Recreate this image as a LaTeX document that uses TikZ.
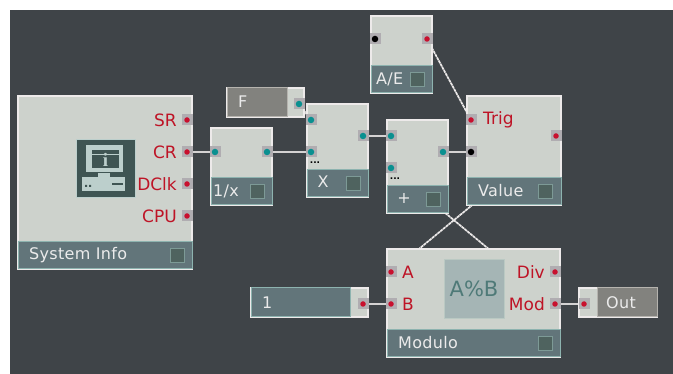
\documentclass[tikz,border=0pt]{standalone}
\usepackage{fontspec}
\setmainfont[LetterSpace=2]{DejaVu Sans}
\newfontfamily\plainfont{DejaVu Sans}
\newfontfamily\iconfont{Liberation Serif}
\definecolor{paneldark}{HTML}{3F4448}
\definecolor{bodylight}{HTML}{CDD2CC}
\definecolor{edgelight}{HTML}{EDEAEA}
\definecolor{bandteal}{HTML}{62757A}
\definecolor{edgeteal}{HTML}{8DB3AF}
\definecolor{togglefill}{HTML}{4F635F}
\definecolor{toggleedge}{HTML}{7D9A96}
\definecolor{portgrey}{HTML}{B0ADB1}
\definecolor{portred}{HTML}{C8102E}
\definecolor{portteal}{HTML}{0A9090}
\definecolor{greybox}{HTML}{82827E}
\definecolor{greyedge}{HTML}{B5B3AE}
\definecolor{labelred}{HTML}{BE1426}
\definecolor{iconink}{HTML}{3F5553}
\definecolor{iconlight}{HTML}{BCCFCC}
\definecolor{mathbox}{HTML}{A5B5B5}
\definecolor{mathink}{HTML}{4F7A78}
\pgfdeclarelayer{backdrop}
\pgfdeclarelayer{wirelayer}
\pgfsetlayers{backdrop,wirelayer,main}
\tikzset{
  modbody/.style={draw=edgelight,fill=bodylight,line width=1.4pt,inner sep=0pt,outer sep=0pt},
  modband/.style={draw=edgeteal,fill=bandteal,line width=1pt,inner sep=0pt,outer sep=0pt},
  togglebox/.style={draw=toggleedge,fill=togglefill,line width=1.4pt,inner sep=0pt,minimum size=14pt},
  greyvalue/.style={draw=greyedge,fill=greybox,line width=1pt,inner sep=0pt,outer sep=0pt},
  tealvalue/.style={draw=edgeteal,fill=bandteal,line width=1pt,inner sep=0pt,outer sep=0pt},
  portbg/.style={fill=portgrey,inner sep=0pt,minimum size=11pt},
  redport/.style={circle,fill=portred,inner sep=0pt,minimum size=5.5pt},
  tealport/.style={circle,fill=portteal,inner sep=0pt,minimum size=6.5pt},
  blackport/.style={circle,fill=black,inner sep=0pt,minimum size=6.5pt},
  bandlabel/.style={text=white!92!black,font=\fontsize{16}{16}\selectfont,inner sep=0pt},
  redlabel/.style={text=labelred,font=\plainfont\fontsize{17}{17}\selectfont,inner sep=0pt},
  wire/.style={draw=edgelight!90!black,line width=1.8pt},
  diagwire/.style={draw=edgelight,line width=1.7pt,dash pattern=on 3pt off 0.6pt},
  dotmark/.style={text=black,font=\plainfont\bfseries\fontsize{9}{9}\selectfont,inner sep=0pt},
}
% name, x1,y1,x2,y2, band top, toggle left
\newcommand{\modulebox}[7]{%
  \pgfmathsetmacro{\mw}{#4-#2}\pgfmathsetmacro{\mh}{#5-#3}
  \pgfmathsetmacro{\bh}{#5-#6}
  \node[modbody,anchor=north west,minimum width=\mw pt,minimum height=\mh pt] (#1) at (#2,#3) {};
  \node[modband,anchor=north west,minimum width=\mw pt,minimum height=\bh pt] (#1band) at (#2,#6) {};
  \pgfmathsetmacro{\tx}{#7+8.5}\pgfmathsetmacro{\ty}{(#5+#6)/2}
  \node[togglebox] (#1toggle) at (\tx,\ty) {};
}
% name, x, y, kind
\newcommand{\portat}[4]{%
  \node[portbg] (#1bg) at (#2,#3) {};
  \node[#4] (#1) at (#2,#3) {};
}
\begin{document}
\begin{tikzpicture}[x=1pt,y=-1pt]
\useasboundingbox (0,0) rectangle (673,374);
\begin{pgfonlayer}{backdrop}
  \fill[white] (0,0) rectangle (673,374);
  \fill[paneldark] (10,10) rectangle (673,374);
\end{pgfonlayer}

% modules
\modulebox{sys}{18}{96}{192}{269}{242}{169}
\modulebox{inv}{211}{128}{272}{205}{178}{249}
\modulebox{mul}{307}{104}{368}{197}{170}{345}
\modulebox{add}{387}{120}{448}{213}{186}{425}
\modulebox{val}{467}{96}{561}{205}{178}{537}
\modulebox{ae}{371}{16}{432}{93}{66}{409}
\modulebox{mod}{387}{249}{560}{357}{330}{537}

% value boxes
\node[modbody,anchor=north west,minimum width=77pt,minimum height=29pt] (fbox) at (227,88) {};
\node[greyvalue,anchor=north west,minimum width=60pt,minimum height=29pt] (ffield) at (227,88) {};
\node[modbody,anchor=north west,minimum width=117pt,minimum height=29pt] (onebox) at (251,288) {};
\node[tealvalue,anchor=north west,minimum width=99pt,minimum height=29pt] (onefield) at (251,288) {};
\node[modbody,anchor=north west,minimum width=78pt,minimum height=29pt] (outbox) at (579,288) {};
\node[greyvalue,anchor=north west,minimum width=60pt,minimum height=29pt] (outfield) at (597,288) {};

% ports
\portat{sr}{187}{120}{redport}
\portat{cr}{187}{152}{redport}
\portat{dclk}{187}{184}{redport}
\portat{cpu}{187}{216}{redport}
\portat{invin}{215}{152}{tealport}
\portat{invout}{267}{152}{tealport}
\portat{fout}{299}{104}{tealport}
\portat{mula}{311}{120}{tealport}
\portat{mulb}{311}{152}{tealport}
\portat{mulout}{363}{136}{tealport}
\portat{adda}{391}{136}{tealport}
\portat{addb}{391}{168}{tealport}
\portat{addout}{443}{152}{tealport}
\portat{aein}{375}{39}{blackport}
\portat{aeout}{427}{39}{redport}
\portat{trig}{471}{120}{redport}
\portat{valin}{471}{152}{blackport}
\portat{valout}{556}{136}{redport}
\portat{moda}{391}{272}{redport}
\portat{modb}{391}{304}{redport}
\portat{div}{555}{272}{redport}
\portat{modout}{555}{304}{redport}
\portat{oneout}{363}{304}{redport}
\portat{outin}{584}{304}{redport}

% wires, behind the modules
\begin{pgfonlayer}{wirelayer}
  \draw[wire] (cr) -- (invin);
  \draw[wire] (invout) -- (mulb);
  \draw[wire] (fout) -- (mula);
  \draw[wire] (mulout) -- (adda);
  \draw[wire] (addout) -- (valin);
  \draw[wire] (oneout) -- (modb);
  \draw[wire] (modout) -- (outin);
  \draw[diagwire] (aeout) -- (trig);
  \draw[diagwire] (valout) -- (moda);
  \draw[diagwire] (modout) -- (addb);
\end{pgfonlayer}

% port labels
\node[redlabel,anchor=east] (lsr) at (177,120) {SR};
\node[redlabel,anchor=east] (lcr) at (177,152) {CR};
\node[redlabel,anchor=east] (ldclk) at (177,184) {DClk};
\node[redlabel,anchor=east] (lcpu) at (177,216) {CPU};
\node[redlabel,anchor=west] (ltrig) at (483,120) {Trig};
\node[redlabel,anchor=west] (la) at (402,272) {A};
\node[redlabel,anchor=west] (lb) at (402,304) {B};
\node[redlabel,anchor=east] (ldiv) at (545,272) {Div};
\node[redlabel,anchor=east] (lmod) at (545,304) {Mod};

% band labels
\node[bandlabel,anchor=west] (tsys) at (29,255) {System Info};
\node[bandlabel,anchor=west] (tinv) at (213,191) {1/x};
\node[bandlabel] (tmul) at (323,182) {X};
\node[bandlabel] (tadd) at (404,198) {+};
\node[bandlabel,anchor=west] (tval) at (478,191) {Value};
\node[bandlabel,anchor=west] (tae) at (376,79) {A/E};
\node[bandlabel,anchor=west] (tmod) at (398,343) {Modulo};
\node[bandlabel,anchor=west] (tf) at (238,102) {F};
\node[bandlabel,anchor=west] (tone) at (262,303) {1};
\node[bandlabel,anchor=west] (tout) at (606,303) {Out};

% dots
\node[dotmark] (dmul) at (315,163) {...};
\node[dotmark] (dadd) at (395,179) {...};

% A%B panel
\node[draw=bodylight!70!edgeteal,fill=mathbox,line width=1.2pt,anchor=north west,minimum width=60pt,minimum height=59pt,inner sep=0pt] (mathpanel) at (444,259) {};
\node[text=mathink,font=\plainfont\fontsize{21}{21}\selectfont,inner sep=0pt] (mathtext) at (474,289) {A\%B};

% info icon
\node[draw=iconlight,fill=iconink,line width=1pt,anchor=north west,minimum width=59pt,minimum height=58pt,inner sep=0pt] (icon) at (76,139.500) {};
\draw[fill=iconlight,draw=none] (86,145) rectangle (123,172);
\draw[fill=iconink,draw=none] (92,150) rectangle (119,168);
\draw[iconlight,line width=.6pt] (92,154) -- (119,154);
\node[text=iconlight,font=\iconfont\bfseries\fontsize{19}{19}\selectfont,inner sep=0pt] (icontext) at (105.500,160) {i};
\fill[iconlight] (98,173) rectangle (110,178);
\fill[iconlight] (82,177.500) rectangle (125,191);
\fill[iconink] (85,185) rectangle (87,187) (89,185) rectangle (91,187);
\fill[iconink] (112,183.500) rectangle (123,185);
\end{tikzpicture}
\end{document}
